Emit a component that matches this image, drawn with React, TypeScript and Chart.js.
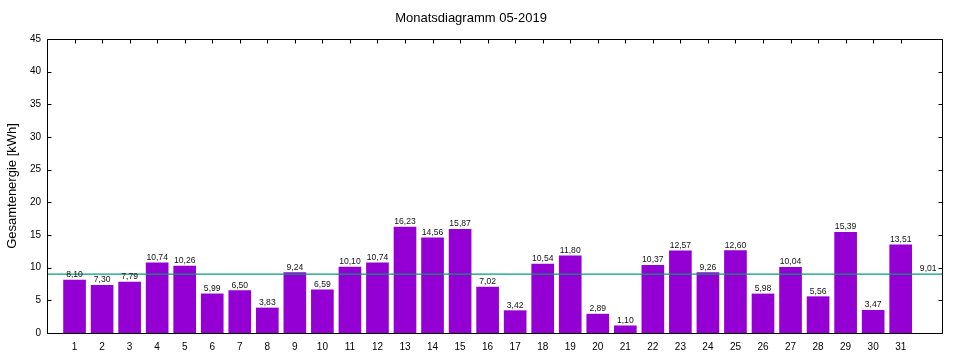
import React, { useEffect, useRef } from "react";
import { Chart, registerables } from "chart.js";

Chart.register(...registerables);

const TITLE = "Monatsdiagramm 05-2019";
const Y_TITLE = "Gesamtenergie [kWh]";
const DAYS = [1, 2, 3, 4, 5, 6, 7, 8, 9, 10, 11, 12, 13, 14, 15, 16, 17, 18, 19, 20, 21, 22, 23, 24, 25, 26, 27, 28, 29, 30, 31];
const ENERGY = [8.10, 7.30, 7.79, 10.74, 10.26, 5.99, 6.50, 3.83, 9.24, 6.59, 10.10, 10.74, 16.23, 14.56, 15.87, 7.02, 3.42, 10.54, 11.80, 2.89, 1.10, 10.37, 12.57, 9.26, 12.60, 5.98, 10.04, 5.56, 15.39, 3.47, 13.51];
const AVERAGE = 9.01;
const Y_TICKS = [0, 5, 10, 15, 20, 25, 30, 35, 40, 45];
const X_MIN = 0;
const X_MAX = 32.5;
const AVG_LABEL_X = 32;

const FONT = "'Liberation Sans', Arial, Helvetica, sans-serif";
const BAR_COLOR = "#9400D3";
const AVG_COLOR = "#009E73";

const fmt = (v: number) => v.toFixed(2).replace(".", ",");

const framePlugin = {
  id: "gnuFrame",
  afterDatasetsDraw(chart: any) {
    const { ctx, chartArea: a, scales } = chart;
    const xs = scales.x;
    const ys = scales.y;
    ctx.save();
    // value labels
    ctx.font = `8.6px ${FONT}`;
    ctx.fillStyle = "#111";
    ctx.textAlign = "center";
    ctx.textBaseline = "alphabetic";
    DAYS.forEach((d, i) => {
      const px = xs.getPixelForValue(d);
      const py = ys.getPixelForValue(ENERGY[i]);
      ctx.fillText(fmt(ENERGY[i]), px, py - 3);
    });
    // average label
    ctx.fillText(fmt(AVERAGE), xs.getPixelForValue(AVG_LABEL_X), ys.getPixelForValue(AVERAGE) - 3);

    // frame
    ctx.strokeStyle = "#000";
    ctx.lineWidth = 1;
    const L = Math.round(a.left) + 0.5;
    const R = Math.round(a.right) + 0.5;
    const T = Math.round(a.top) + 0.5;
    const B = Math.round(a.bottom) + 0.5;
    ctx.beginPath();
    ctx.rect(L, T, R - L, B - T);
    // y ticks inward, left and right
    Y_TICKS.forEach((v) => {
      const y = Math.round(ys.getPixelForValue(v)) + 0.5;
      ctx.moveTo(L, y);
      ctx.lineTo(L + 4, y);
      ctx.moveTo(R, y);
      ctx.lineTo(R - 4, y);
    });
    // x ticks on top, inward
    DAYS.forEach((d) => {
      const x = Math.round(xs.getPixelForValue(d)) + 0.5;
      ctx.moveTo(x, T);
      ctx.lineTo(x, T + 4);
    });
    ctx.stroke();
    ctx.restore();
  },
};

export default function App() {
  const ref = useRef<HTMLCanvasElement | null>(null);

  useEffect(() => {
    document.body.style.margin = "0";
    if (!ref.current) return;
    const chart = new Chart(ref.current, {
      type: "bar",
      data: {
        datasets: [
          {
            type: "line",
            label: "Durchschnitt",
            data: [
              { x: X_MIN, y: AVERAGE },
              { x: X_MAX, y: AVERAGE },
            ],
            borderColor: AVG_COLOR,
            borderWidth: 1.2,
            pointRadius: 0,
            fill: false,
            order: 0,
          } as any,
          {
            type: "bar",
            label: "Energie",
            data: DAYS.map((d, i) => ({ x: d, y: ENERGY[i] })),
            backgroundColor: BAR_COLOR,
            borderWidth: 0,
            barThickness: 22,
            order: 1,
          } as any,
        ],
      },
      options: {
        responsive: false,
        animation: false,
        events: [],
        layout: { padding: { left: 0, right: 18, top: 0, bottom: 0 } },
        plugins: {
          legend: { display: false },
          tooltip: { enabled: false },
          title: {
            display: true,
            text: TITLE,
            color: "#000",
            font: { family: FONT, size: 13, weight: "normal" },
            padding: { top: 11, bottom: 12.4 },
          },
        },
        scales: {
          x: {
            type: "linear",
            min: X_MIN,
            max: X_MAX,
            offset: false,
            grid: { display: false, drawTicks: false },
            border: { display: false },
            afterFit: (s: any) => {
              s.height = 27;
            },
            afterBuildTicks: (s: any) => {
              s.ticks = DAYS.map((d) => ({ value: d }));
            },
            ticks: {
              autoSkip: false,
              maxRotation: 0,
              padding: 8,
              color: "#000",
              font: { family: FONT, size: 10 },
              callback: (v: any) => String(v),
            },
          },
          y: {
            min: 0,
            max: 45,
            grid: { display: false, drawTicks: false },
            border: { display: false },
            afterFit: (s: any) => {
              s.width = 47;
            },
            afterBuildTicks: (s: any) => {
              s.ticks = Y_TICKS.map((v) => ({ value: v }));
            },
            ticks: {
              padding: 6,
              color: "#000",
              font: { family: FONT, size: 10 },
              callback: (v: any) => String(v),
            },
            title: {
              display: true,
              text: Y_TITLE,
              color: "#000",
              font: { family: FONT, size: 13 },
              padding: { top: 5, bottom: 0 },
            },
          },
        },
      },
      plugins: [framePlugin],
    });
    return () => chart.destroy();
  }, []);

  return (
    <div style={{ width: 960, height: 360, background: "#fff" }}>
      <canvas ref={ref} width={960} height={360} style={{ display: "block", width: 960, height: 360 }} />
    </div>
  );
}
